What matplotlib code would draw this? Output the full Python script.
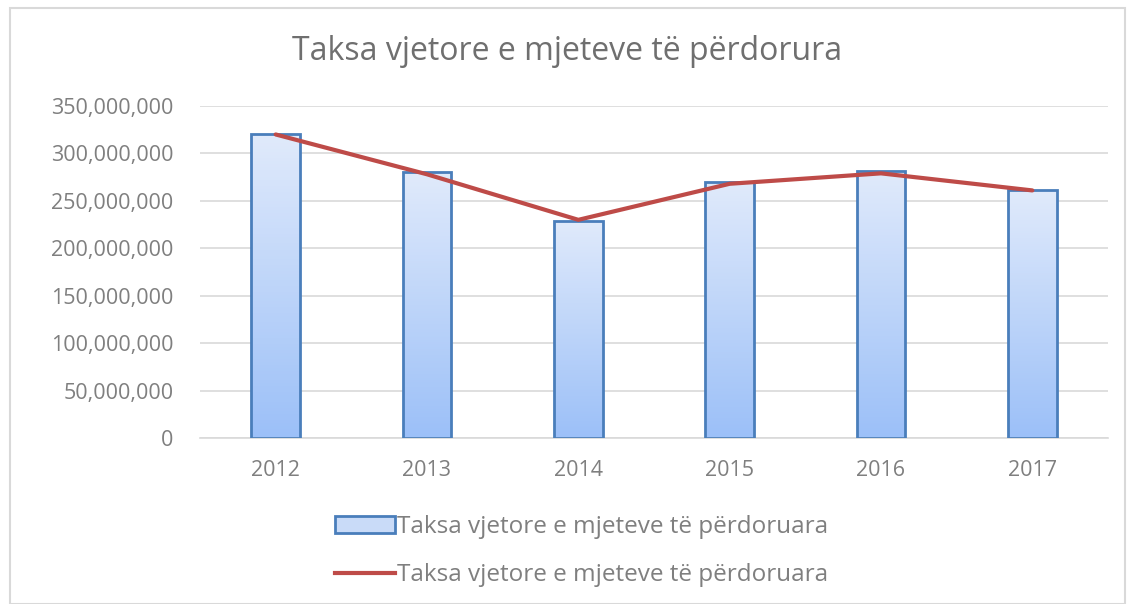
import matplotlib
matplotlib.use("Agg")
import matplotlib.pyplot as plt
import numpy as np
from matplotlib.patches import Rectangle, Patch
from matplotlib.lines import Line2D
from matplotlib.ticker import FuncFormatter

years = ["2012", "2013", "2014", "2015", "2016", "2017"]
bar_values = [320e6, 280e6, 229e6, 270e6, 281e6, 261e6]
line_values = [320e6, 278e6, 230e6, 268e6, 279e6, 261e6]
title = "Taksa vjetore e mjeteve të përdorura"
legend_label = "Taksa vjetore e mjeteve të përdoruara"

plt.rcParams['font.family'] = ['Open Sans', 'DejaVu Sans']
gray = '#7f7f7f'

fig = plt.figure(figsize=(11.35, 6.04), dpi=100)
W, H = 1135, 604
ax = fig.add_axes([200 / W, 1 - 438 / H, 908 / W, 332 / H])

# outer chart border
fig.patches.append(Rectangle((10 / W, 0), 1115 / W, 1 - 8 / H, transform=fig.transFigure,
                             fill=False, edgecolor='#d9d9d9', linewidth=1.5))

x = np.arange(len(years))
width = 0.32
grad = np.linspace(0, 1, 100).reshape(-1, 1)
cmap = matplotlib.colors.LinearSegmentedColormap.from_list('g', ['#9cc0f8', '#e0eafb'])

bars = ax.bar(x, bar_values, width, facecolor='none', edgecolor='#4a7ebb', linewidth=2, zorder=3)
for b in bars:
    bx, by = b.get_x(), b.get_y()
    im = ax.imshow(grad, extent=[bx, bx + b.get_width(), by, by + b.get_height()],
                   origin='lower', cmap=cmap, aspect='auto', zorder=2)
    im.set_clip_path(b)

ax.plot(x, line_values, color='#be4b48', linewidth=3, zorder=4, solid_capstyle='round')

ax.set_xlim(-0.5, len(years) - 0.5)
ax.set_ylim(0, 350e6)
ax.set_yticks(np.arange(0, 350e6 + 1, 50e6))
ax.yaxis.set_major_formatter(FuncFormatter(lambda v, p: f"{int(v):,}"))
ax.set_xticks(x)
ax.set_xticklabels(years)
ax.grid(axis='y', color='#d9d9d9', linewidth=1.2, zorder=0)
ax.set_axisbelow(True)
for s in ['top', 'right', 'left']:
    ax.spines[s].set_visible(False)
ax.spines['bottom'].set_color('#d9d9d9')
ax.spines['bottom'].set_linewidth(1.2)
ax.tick_params(axis='both', length=0, labelsize=15.5, labelcolor=gray)
ax.tick_params(axis='y', pad=19)
ax.tick_params(axis='x', pad=16)

fig.text(0.5, 1 - 52 / H, title, ha='center', va='center', fontsize=23, color='#6f6f6f')

handles = [Patch(facecolor='#c9dbf8', edgecolor='#4a7ebb', linewidth=2),
           Line2D([0], [0], color='#be4b48', linewidth=3)]
fig.legend(handles, [legend_label, legend_label], loc='center', bbox_to_anchor=(0.512, 1 - 551 / H),
           frameon=False, fontsize=17.5, labelcolor=gray, handlelength=2.5, handletextpad=0.05,
           labelspacing=1.0)

fig.savefig("out.png", dpi=100)
